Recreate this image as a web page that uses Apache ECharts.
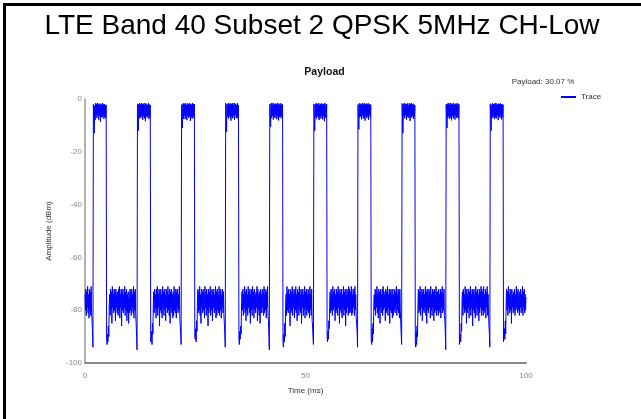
<!DOCTYPE html>
<html>
<head>
<meta charset="utf-8">
<script src="https://cdn.jsdelivr.net/npm/echarts@6/dist/echarts.min.js"></script>
<style>
html,body{margin:0;padding:0;background:#fff;}
#chart{width:641px;height:419px;}
</style>
</head>
<body>
<div id="chart"></div>
<script>
// Sample spacing of the trace (ms) and frame length (ms)
const sampleStep = 0.1;
const framePeriod = 10;
const xTicks = [0, 50, 100];
const yTicks = [-100, -80, -60, -40, -20, 0];
const seriesName = 'Trace';
const payloadText = 'Payload: 30.07 %';

// Amplitude (dBm), one array per 10 ms frame (100 samples each)
const frame0 = [
-74,-80,-72,-82,-73,-79,-71,-81,-74,-83,-72,-80,-73,-82,-71,-81,-84,-88,
-94,
-2,-7,-13,-2.5,-8,-1.6,-6.5,-2,-7.2,-1.5,-6,-2.2,-7.8,-1.7,-6.4,-2,-8.6,-1.8,-6.8,-2.3,-7,-1.5,-6.2,-2.1,-7.5,-1.9,-6.6,-2.4,-7.1,-2.2,
-91,
-93,-89,-92,-86,-90,-78,-74,-82,-72,-80,
-73,-85,-71,-79,-74,-81,-72,-80,-73,-84,
-72,-79,-74,-81,-73,-82,-72,-80,-71,-83,
-74,-79,-72,-86,-73,-80,-72,-81,-74,-79,
-71,-82,-73,-80,-72,-84,-74,-81,-73,-85];
const frame1 = [
-75,-81,-72,-80,-73,-82,-72,-79,-74,-81,-71,-83,-73,-80,-72,-82,-85,-90,
-95,
-1.8,-6.5,-12,-2,-7.4,-1.5,-6.8,-2.1,-7.1,-1.6,-6.3,-2,-7.9,-1.7,-6.5,-2.2,-7.3,-1.5,-8.4,-2,-6.6,-1.8,-7,-2.3,-6.1,-1.6,-7.6,-2.1,-6.9,-2.3,
-92,
-92,-88,-93,-85,-89,-77,-73,-81,-72,-79,
-74,-83,-72,-80,-71,-82,-74,-79,-72,-86,
-73,-80,-72,-81,-74,-83,-71,-79,-73,-82,
-72,-80,-74,-84,-72,-79,-73,-81,-71,-80,
-74,-82,-72,-85,-73,-79,-72,-81,-74,-83];
const frame2 = [
-73,-82,-71,-80,-74,-81,-72,-83,-73,-79,-72,-81,-74,-80,-71,-83,-86,-89,
-93,
-2.2,-7,-11,-1.8,-7.5,-1.6,-6.2,-2,-7.6,-1.5,-6.8,-2.3,-8,-1.7,-6.4,-2,-7.2,-1.6,-6.6,-2.1,-8.3,-1.8,-6.9,-2.2,-7.4,-1.5,-6.3,-2,-7.1,-2,
-90,
-91,-87,-92,-84,-88,-76,-72,-81,-73,-80,
-71,-82,-74,-85,-72,-79,-73,-81,-72,-80,
-74,-83,-71,-79,-73,-82,-72,-80,-74,-86,
-72,-81,-73,-79,-71,-82,-74,-80,-72,-84,
-73,-79,-72,-81,-74,-80,-71,-83,-73,-82];
const frame3 = [
-72,-80,-74,-81,-71,-82,-73,-80,-72,-83,-74,-79,-72,-81,-73,-82,-85,-89,
-94,
-1.6,-6.8,-12.5,-2,-6.6,-1.8,-7.4,-1.5,-6.2,-2.1,-7,-1.7,-8.2,-2,-6.6,-1.6,-7.3,-2.2,-6.4,-1.5,-7.8,-2,-6.1,-1.8,-7.2,-2.3,-6.7,-1.6,-7.5,-2.3,
-91,
-93,-88,-91,-86,-89,-77,-73,-80,-72,-82,
-74,-79,-71,-81,-73,-84,-72,-80,-74,-82,
-71,-79,-73,-81,-72,-85,-74,-80,-72,-82,
-71,-79,-73,-83,-72,-80,-74,-81,-73,-79,
-71,-84,-72,-80,-74,-82,-73,-85,-72,-81];
const frame4 = [
-74,-81,-72,-79,-73,-82,-71,-81,-74,-80,-72,-83,-73,-79,-71,-82,-84,-90,
-95,
-2,-6.6,-10.5,-1.7,-7.2,-1.5,-6.4,-2.2,-7.8,-1.6,-6.6,-2,-7.2,-1.8,-6,-2.1,-7.7,-1.5,-6.5,-2,-8.1,-1.7,-6.8,-2.2,-7,-1.6,-6.3,-2.1,-7.4,-2.1,
-92,
-94,-89,-92,-85,-90,-78,-74,-82,-71,-80,
-73,-81,-72,-79,-74,-86,-72,-81,-73,-80,
-71,-82,-74,-79,-72,-83,-73,-80,-71,-81,
-74,-84,-72,-79,-73,-82,-71,-80,-74,-81,
-72,-85,-73,-79,-72,-82,-74,-80,-71,-83];
const frame5 = [
-73,-79,-72,-82,-74,-80,-72,-81,-73,-83,-71,-80,-74,-82,-72,-84,-86,-90,
-93,
-1.9,-7.1,-12,-2.1,-6.8,-1.6,-7.6,-1.8,-6.3,-2,-7.1,-1.5,-8,-2.2,-6.7,-1.9,-7.4,-1.6,-6.2,-2.1,-7.7,-1.8,-6.5,-2,-8.4,-1.5,-6.9,-2.2,-7.2,-1.9,
-90,
-92,-88,-91,-84,-87,-76,-73,-81,-72,-80,
-74,-82,-71,-80,-73,-79,-72,-84,-74,-81,
-72,-80,-73,-82,-71,-79,-74,-85,-72,-80,
-73,-81,-72,-83,-74,-79,-71,-82,-73,-80,
-72,-86,-74,-81,-72,-79,-73,-82,-71,-81];
const frame6 = [
-72,-81,-73,-80,-71,-82,-74,-81,-72,-79,-73,-82,-71,-80,-74,-83,-85,-88,
-94,
-2.1,-6.9,-11.5,-1.6,-7,-2,-6.5,-1.7,-7.7,-2.2,-6.2,-1.6,-7.4,-2,-6.8,-1.5,-8.2,-2.1,-6.4,-1.8,-7.3,-2,-6.6,-1.6,-7.9,-2.2,-6.1,-1.9,-7,-2.2,
-91,
-93,-87,-92,-85,-89,-77,-74,-80,-72,-82,
-73,-79,-71,-81,-74,-83,-72,-80,-73,-85,
-72,-79,-74,-81,-72,-82,-71,-80,-73,-79,
-74,-84,-72,-81,-73,-80,-71,-82,-74,-79,
-72,-85,-73,-80,-72,-81,-74,-83,-72,-82];
const frame7 = [
-74,-80,-72,-81,-73,-79,-71,-82,-74,-80,-72,-81,-73,-83,-72,-80,-85,-89,
-93,
-1.7,-7.2,-13,-2,-6.5,-1.5,-7.3,-2.1,-6.1,-1.8,-7.9,-2,-6.6,-1.6,-7.2,-2.4,-6.4,-1.7,-8.3,-2,-6.8,-1.5,-7.1,-2.2,-6.3,-1.8,-7.6,-2.1,-6.7,-2.4,
-92,
-94,-88,-93,-86,-90,-78,-72,-81,-73,-80,
-71,-82,-74,-79,-72,-84,-73,-80,-72,-81,
-74,-79,-71,-82,-73,-85,-72,-80,-74,-81,
-72,-79,-73,-83,-71,-80,-74,-82,-72,-79,
-73,-84,-72,-81,-74,-80,-71,-82,-73,-80];
const frame8 = [
-73,-82,-72,-80,-74,-81,-72,-83,-73,-79,-71,-81,-74,-80,-72,-82,-84,-88,
-95,
-2,-6.7,-11,-1.8,-7.1,-1.6,-6.4,-2.2,-7.5,-1.5,-6.9,-2.1,-8.1,-1.7,-6.3,-2,-7.4,-1.6,-6.6,-2.2,-7.8,-1.8,-6.2,-2,-7.2,-1.5,-6.8,-2.1,-7.5,-2,
-93,
-93,-89,-92,-85,-88,-76,-73,-82,-72,-79,
-74,-81,-71,-80,-73,-85,-72,-81,-74,-79,
-72,-83,-73,-80,-71,-82,-74,-79,-72,-86,
-73,-80,-72,-81,-74,-83,-71,-79,-73,-82,
-72,-80,-74,-84,-72,-81,-73,-79,-71,-82];
const frame9 = [
-72,-80,-73,-82,-71,-81,-74,-80,-72,-83,-73,-79,-71,-82,-74,-81,-86,-89,
-94,
-1.8,-6.5,-12,-2.2,-6.7,-1.6,-7.2,-1.9,-6.4,-2,-7.6,-1.5,-6.9,-2.1,-7.3,-1.7,-6.2,-2.2,-8,-1.8,-6.6,-2,-7.1,-1.6,-6.4,-2.1,-7.7,-1.9,-6.8,-2.2,
-92,
-92,-87,-91,-84,-89,-77,-72,-80,-73,-82,
-71,-79,-74,-81,-72,-80,-73,-85,-72,-79,
-74,-81,-73,-80,-72,-82,-74,-80,-71,-79,
-73,-81,-72,-80,-74,-82,-73,-79,-72,-81,
-74,-80,-71,-82,-73,-79,-72,-81,-74,-80];
const endSample = [-75]; // value at t = 100 ms

const frames = [frame0, frame1, frame2, frame3, frame4, frame5, frame6, frame7, frame8, frame9];
const traceData = [];
frames.forEach((f, k) => {
  f.forEach((v, i) => {
    traceData.push([Math.round((k * framePeriod + i * sampleStep) * 100) / 100, v]);
  });
});
traceData.push([frames.length * framePeriod, endSample[0]]);

const FONT = '"Liberation Sans", Arial, sans-serif';
const chart = echarts.init(document.getElementById('chart'), null, {renderer: 'canvas'});
chart.setOption({
  animation: false,
  backgroundColor: '#ffffff',
  graphic: [
    {type: 'rect', shape: {x: 3, y: 3, width: 640, height: 3}, style: {fill: '#000'}, silent: true},
    {type: 'rect', shape: {x: 3, y: 3, width: 3, height: 420}, style: {fill: '#000'}, silent: true},
    {type: 'text', style: {text: 'LTE Band 40 Subset 2 QPSK 5MHz CH-Low', x: 322, y: 26.5, font: '28px ' + FONT, fill: '#000', textAlign: 'center', textVerticalAlign: 'middle', align: 'center', verticalAlign: 'middle'}},
    {type: 'text', style: {text: 'Payload', x: 324.5, y: 72.5, font: 'bold 10.5px ' + FONT, fill: '#111', textAlign: 'center', textVerticalAlign: 'middle', align: 'center', verticalAlign: 'middle'}},
    {type: 'text', style: {text: payloadText, x: 543, y: 82, font: '8px ' + FONT, fill: '#333', textAlign: 'center', textVerticalAlign: 'middle', align: 'center', verticalAlign: 'middle'}}
  ],
  legend: {
    data: [seriesName],
    left: 561, top: 93, padding: 0,
    icon: 'rect', itemWidth: 15, itemHeight: 2, itemGap: 5,
    textStyle: {fontSize: 8, color: '#333', fontFamily: FONT}
  },
  grid: {left: 85, right: 115, top: 99, bottom: 56, containLabel: false},
  xAxis: {
    type: 'value', min: xTicks[0], max: xTicks[xTicks.length - 1], interval: xTicks[1] - xTicks[0],
    name: 'Time (ms)', nameLocation: 'middle', nameGap: 24,
    nameTextStyle: {fontSize: 8, color: '#333', fontFamily: FONT},
    axisLine: {onZero: false, lineStyle: {color: '#888', width: 2}},
    axisTick: {show: false},
    splitLine: {show: false},
    axisLabel: {fontSize: 8, color: '#888', margin: 9, fontFamily: FONT}
  },
  yAxis: {
    type: 'value', min: yTicks[0], max: yTicks[yTicks.length - 1], interval: yTicks[1] - yTicks[0],
    name: 'Amplitude (dBm)', nameLocation: 'middle', nameGap: 32,
    nameTextStyle: {fontSize: 8, color: '#333', fontFamily: FONT},
    axisLine: {show: true, onZero: false, lineStyle: {color: '#999', width: 1.5}},
    axisTick: {show: false},
    splitLine: {show: false},
    axisLabel: {fontSize: 8, color: '#888', margin: 3, fontFamily: FONT}
  },
  series: [{
    name: seriesName,
    type: 'line',
    data: traceData,
    showSymbol: false,
    symbol: 'none',
    sampling: null,
    lineStyle: {color: '#0000ff', width: 1},
    itemStyle: {color: '#0000ff'},
    z: 3
  }]
});
</script>
</body>
</html>
